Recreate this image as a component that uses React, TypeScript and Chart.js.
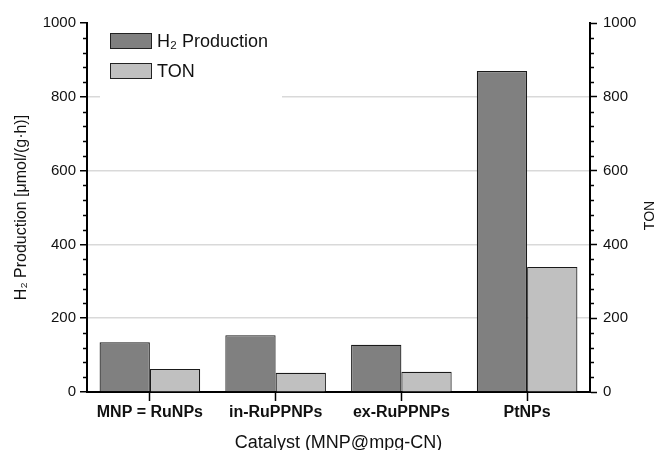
import React, { useEffect, useRef } from "react";
import { Chart, registerables } from "chart.js";

Chart.register(...registerables);

const categories = ["MNP = RuNPs", "in-RuPPNPs", "ex-RuPPNPs", "PtNPs"];
const h2Production = [135, 154, 128, 870];
const tonValues = [62, 52, 55, 339];
const seriesLabels = ["H₂ Production", "TON"];
const axisMin = 0;
const axisMax = 1000;
const majorStep = 200;
const minorStep = 40;
const leftTitle = "H₂ Production [μmol/(g·h)]";
const rightTitle = "TON";
const xTitle = "Catalyst (MNP@mpg-CN)";

const FONT = "'Liberation Sans', Arial, sans-serif";

const minorTicksPlugin = {
  id: "minorTicks",
  afterDraw(chart: any) {
    const ctx = chart.ctx;
    ctx.save();
    ctx.strokeStyle = "#000";
    ctx.lineWidth = 1.5;
    ["y", "y1"].forEach((id) => {
      const scale = chart.scales[id];
      if (!scale) return;
      const isLeft = id === "y";
      const x0 = isLeft ? scale.right : scale.left;
      for (let v = axisMin; v <= axisMax; v += minorStep) {
        if (v % majorStep === 0) continue;
        const py = Math.round(scale.getPixelForValue(v)) + 0.5;
        ctx.beginPath();
        ctx.moveTo(x0, py);
        ctx.lineTo(isLeft ? x0 - 4 : x0 + 4, py);
        ctx.stroke();
      }
    });
    // right axis title, reading bottom-to-top
    const r = chart.scales["y1"];
    if (r) {
      ctx.save();
      ctx.translate(650, (r.top + r.bottom) / 2 + 8);
      ctx.rotate(-Math.PI / 2);
      ctx.fillStyle = "#111";
      ctx.font = `14px ${FONT}`;
      ctx.textAlign = "center";
      ctx.textBaseline = "middle";
      ctx.fillText(rightTitle, 0, 0);
      ctx.restore();
    }
    ctx.restore();
  },
};

const legendPlugin = {
  id: "insideLegend",
  afterDatasetsDraw(chart: any) {
    const ctx = chart.ctx;
    const area = chart.chartArea;
    ctx.save();
    ctx.fillStyle = "#fff";
    ctx.fillRect(area.left + 13, area.top + 4, 182, 76);
    chart.data.datasets.forEach((ds: any, i: number) => {
      const x = area.left + 23;
      const y = area.top + 10 + i * 30;
      ctx.fillStyle = ds.backgroundColor;
      ctx.fillRect(x, y, 42, 16);
      ctx.strokeStyle = "#222";
      ctx.lineWidth = 1;
      ctx.strokeRect(x + 0.5, y + 0.5, 41, 15);
      ctx.fillStyle = "#111";
      ctx.font = `18px ${FONT}`;
      ctx.textBaseline = "middle";
      ctx.textAlign = "left";
      ctx.fillText(ds.label, x + 47, y + 9);
    });
    ctx.restore();
  },
};

const plainTick = (v: any) => String(v);

export default function App() {
  const canvasRef = useRef<HTMLCanvasElement | null>(null);

  useEffect(() => {
    if (!canvasRef.current) return;
    const chart = new Chart(canvasRef.current, {
      type: "bar",
      data: {
        labels: categories,
        datasets: [
          {
            label: seriesLabels[0],
            data: h2Production,
            backgroundColor: "#808080",
            borderColor: "#1a1a1a",
            borderWidth: 1.2,
            yAxisID: "y",
            categoryPercentage: 0.8,
            barPercentage: 1.0,
          },
          {
            label: seriesLabels[1],
            data: tonValues,
            backgroundColor: "#c0c0c0",
            borderColor: "#1a1a1a",
            borderWidth: 1.2,
            yAxisID: "y1",
            categoryPercentage: 0.8,
            barPercentage: 1.0,
          },
        ],
      },
      options: {
        animation: false,
        responsive: true,
        maintainAspectRatio: false,
        layout: { padding: { top: 23, left: 0, right: 0, bottom: 0 } },
        plugins: {
          legend: { display: false },
          tooltip: { enabled: false },
        },
        scales: {
          x: {
            offset: true,
            grid: {
              offset: false,
              drawOnChartArea: false,
              drawTicks: true,
              tickLength: 9,
              tickColor: "#000",
              tickWidth: 1.5,
            },
            border: { display: true, color: "#000", width: 2 },
            ticks: {
              color: "#111",
              padding: 2,
              font: { family: FONT, size: 16, weight: "bold" },
            },
            title: {
              display: true,
              text: xTitle,
              color: "#111",
              font: { family: FONT, size: 18, lineHeight: 0.8 },
              padding: 0,
            },
            afterFit(scale: any) {
              scale.height = 58;
            },
          },
          y: {
            position: "left",
            min: axisMin,
            max: axisMax,
            grid: {
              drawOnChartArea: true,
              color: (c: any) =>
                c.tick && c.tick.value > axisMin && c.tick.value < axisMax ? "#d9d9d9" : "rgba(0,0,0,0)",
              lineWidth: 1.5,
              tickLength: 7,
              tickColor: "#000",
              tickWidth: 1.5,
            },
            border: { display: true, color: "#000", width: 2 },
            ticks: {
              stepSize: majorStep,
              color: "#111",
              padding: 4,
              font: { family: FONT, size: 15 },
              callback: plainTick,
            },
            title: {
              display: true,
              text: leftTitle,
              color: "#111",
              font: { family: FONT, size: 16, lineHeight: 1.2 },
              padding: { top: 12, bottom: 0 },
            },
            afterFit(scale: any) {
              scale.width = 87;
            },
          },
          y1: {
            position: "right",
            min: axisMin,
            max: axisMax,
            grid: {
              drawOnChartArea: false,
              tickLength: 7,
              tickColor: "#000",
              tickWidth: 1.5,
            },
            border: { display: true, color: "#000", width: 2 },
            ticks: {
              stepSize: majorStep,
              color: "#111",
              padding: 6,
              font: { family: FONT, size: 15 },
              callback: plainTick,
            },
            title: { display: false },
            afterFit(scale: any) {
              scale.width = 69;
            },
          },
        },
      },
      plugins: [legendPlugin, minorTicksPlugin],
    });
    return () => chart.destroy();
  }, []);

  return (
    <div style={{ position: "fixed", left: 0, top: 0, width: 659, height: 450, background: "#fff" }}>
      <canvas ref={canvasRef} />
    </div>
  );
}
